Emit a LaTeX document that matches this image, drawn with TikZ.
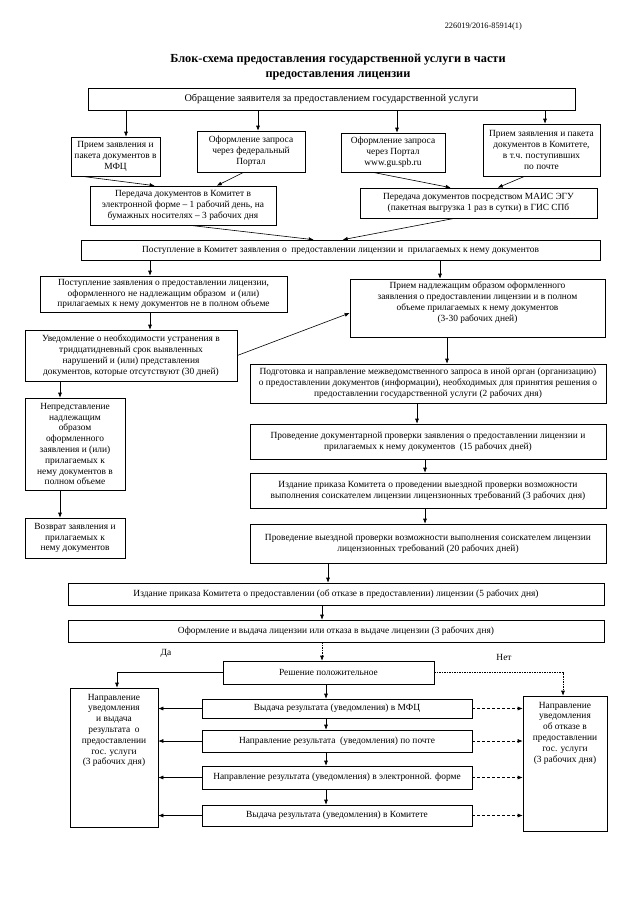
\documentclass[tikz,border=0pt]{standalone}
\usepackage{fontspec}
\setmainfont{Liberation Serif}
\usetikzlibrary{arrows.meta}
\tikzset{
 box/.style={draw, line width=0.6pt, inner sep=2pt, align=center, font=\fontsize{9.4}{10.8}\selectfont},
 arr/.style={line width=0.6pt, -{Latex[length=5pt,width=4pt]}},
 dasharr/.style={arr, dash pattern=on 3pt off 2pt},
 dotline/.style={arr, dash pattern=on 1.5pt off 1pt},
 lbl/.style={font=\fontsize{9.4}{10.8}\selectfont, inner sep=0pt},
}
\newcommand\flowbox[6]{\node[box, minimum width={(#4-#2)*1pt}, minimum height={(#5-#3)*1pt}] (#1) at ({(#2+#4)/2},{(#3+#5)/2}) {#6};}
\begin{document}
\begin{tikzpicture}[x=1pt,y=-1pt]
\useasboundingbox (0,0) rectangle (640,905);
\fill[white] (0,0) rectangle (640,905);

\node[inner sep=0pt, anchor=east, font=\fontsize{8.3}{9}\selectfont] (hdr) at (522,27) {226019/2016-85914(1)};
\node[inner sep=0pt, align=center, font=\fontsize{12.3}{14.5}\selectfont\bfseries] (title) at (338,67) {Блок-схема предоставления государственной услуги в части\\предоставления лицензии};

\flowbox{box1}{88}{88}{575}{110}{\fontsize{10.3}{11}\selectfont Обращение заявителя за предоставлением государственной услуги}

\flowbox{A}{71}{137}{160}{176}{Прием заявления и\\пакета документов в\\МФЦ}
\flowbox{B}{197}{131}{305}{172}{Оформление запроса\\через федеральный\\Портал}
\flowbox{C}{341}{133}{445}{172}{Оформление запроса\\через Портал\\www.gu.spb.ru}
\flowbox{D}{483}{124}{600}{176}{Прием заявления и пакета\\документов в Комитете,\\в т.ч. поступивших\\по почте}

\flowbox{T1}{90}{186}{276}{225}{Передача документов в Комитет в\\электронной форме – 1 рабочий день, на\\бумажных носителях – 3 рабочих дня}
\flowbox{T2}{360}{188}{597}{218}{Передача документов посредством МАИС ЭГУ\\(пакетная выгрузка 1 раз в сутки) в ГИС СПб}

\flowbox{P}{81}{240}{600}{260}{Поступление в Комитет заявления о\ \ предоставлении лицензии и\ \ прилагаемых к нему документов}

\flowbox{Bad}{40}{276}{287}{312}{Поступление заявления о предоставлении лицензии,\\оформленного не надлежащим образом\ \ и (или)\\прилагаемых к нему документов не в полном объеме}
\node[box, minimum width=255pt, minimum height=58pt] (Good) at (477.5,308) {\parbox[c][52pt][t]{250pt}{\centering Прием надлежащим образом оформленного\\заявления о предоставлении лицензии и в полном\\объеме прилагаемых к нему документов\\(3-30 рабочих дней)}};

\flowbox{Notice}{25}{330}{237}{381}{Уведомление о необходимости устранения в\\тридцатидневный срок выявленных\\нарушений и (или) представления\\документов, которые отсутствуют (30 дней)}

\flowbox{Inter}{250}{364}{606}{403}{Подготовка и направление межведомственного запроса в иной орган (организацию)\\о предоставлении документов (информации), необходимых для принятия решения о\\предоставлении государственной услуги (2 рабочих дня)}
\flowbox{Doc}{250}{424}{606}{459}{Проведение документарной проверки заявления о предоставлении лицензии и\\прилагаемых к нему документов\ \ (15 рабочих дней)}
\flowbox{Order}{250}{473}{606}{508}{Издание приказа Комитета о проведении выездной проверки возможности\\выполнения соискателем лицензии лицензионных требований (3 рабочих дня)}
\flowbox{Onsite}{250}{524}{606}{563}{Проведение выездной проверки возможности выполнения соискателем лицензии\\лицензионных требований (20 рабочих дней)}

\flowbox{Nonsub}{25}{398}{125}{490}{\fontsize{9.4}{10.3}\selectfont Непредставление\\надлежащим\\образом\\оформленного\\заявления и (или)\\прилагаемых к\\нему документов в\\полном объеме}
\flowbox{Ret}{25}{518}{125}{558}{Возврат заявления и\\прилагаемых к\\нему документов}

\flowbox{Order2}{68}{583}{604}{605}{Издание приказа Комитета о предоставлении (об отказе в предоставлении) лицензии (5 рабочих дня)}
\flowbox{Issue}{68}{620}{604}{642}{Оформление и выдача лицензии или отказа в выдаче лицензии (3 рабочих дня)}

\flowbox{Dec}{223}{661}{434}{684}{Решение положительное}
\node[lbl] (da) at (166,653) {Да};
\node[lbl] (net) at (504,657) {Нет};

\node[box, minimum width=88pt, minimum height=139pt] (Yes) at (114,757.5) {\parbox[c][133pt][t]{84pt}{\centering\vspace{3pt}Направление\\уведомления\\и выдача\\результата\ \ о\\предоставлении\\гос. услуги\\(3 рабочих дня)}};
\node[box, minimum width=84pt, minimum height=135pt] (No) at (565,763.5) {\parbox[c][129pt][t]{80pt}{\centering\vspace{3pt}Направление\\уведомления\\об отказе в\\предоставлении\\гос. услуги\\(3 рабочих дня)}};

\flowbox{R1}{202}{699}{472}{718}{Выдача результата (уведомления) в МФЦ}
\flowbox{R2}{202}{730}{472}{752}{Направление результата\ \ (уведомления) по почте}
\flowbox{R3}{202}{766}{472}{789}{Направление результата (уведомления) в электронной. форме}
\flowbox{R4}{202}{805}{472}{826}{Выдача результата (уведомления) в Комитете}

% connectors top
\draw[arr] (box1.south -| 126,0) -- (A.north -| 126,0);
\draw[arr] (box1.south -| 258,0) -- (B.north -| 258,0);
\draw[arr] (box1.south -| 397,0) -- (C.north -| 397,0);
\draw[arr] (box1.south -| 545,0) -- (D.north -| 545,0);

\draw[arr] ([xshift=11pt]A.south west) -- ([xshift=65pt]T1.north west);
\draw[arr] ([xshift=47pt]B.south west) -- ([xshift=127pt]T1.north west);
\draw[arr] ([xshift=32pt]C.south west) -- ([xshift=91pt]T2.north west);
\draw[arr] ([xshift=42pt]D.south west) -- ([xshift=138pt]T2.north west);

\draw[arr] ([xshift=100pt]T1.south west) -- ([xshift=233pt]P.north west);
\draw[arr] ([xshift=95pt]T2.south west) -- ([xshift=262pt]P.north west);

\draw[arr] (P.south -| 150,0) -- (Bad.north -| 150,0);
\draw[arr] (Bad.south -| 150,0) -- (Notice.north -| 150,0);
\draw[arr] (P.south -| 440,0) -- (Good.north -| 440,0);
\draw[arr] (Notice.east) -- ([yshift=-5pt]Good.west);
\draw[arr] (Good.south -| 447,0) -- (Inter.north -| 447,0);

\draw[arr] (Notice.south -| 60,0) -- (Nonsub.north -| 60,0);
\draw[arr] (Nonsub.south -| 60,0) -- (Ret.north -| 60,0);

\draw[arr] (Inter.south -| 417,0) -- (Doc.north -| 417,0);
\draw[arr] (Doc.south -| 425,0) -- (Order.north -| 425,0);
\draw[arr] (Order.south -| 425,0) -- (Onsite.north -| 425,0);
\draw[arr] (Onsite.south -| 328,0) -- (Order2.north -| 328,0);
\draw[arr] (Order2.south -| 322,0) -- (Issue.north -| 322,0);
\draw[dotline] (Issue.south -| 322,0) -- (Dec.north -| 322,0);

\draw[arr] (Dec.west) -| (Yes.north -| 117,0);
\draw[dotline] (Dec.east) -| (No.north -| 563,0);

\draw[arr] (Dec.south -| 326,0) -- (R1.north -| 326,0);
\draw[arr] (R1.south -| 326,0) -- (R2.north -| 326,0);
\draw[arr] (R2.south -| 326,0) -- (R3.north -| 326,0);
\draw[arr] (R3.south -| 326,0) -- (R4.north -| 326,0);

\foreach \r in {R1,R2,R3,R4}{
  \draw[arr] (\r.west) -- (\r.west -| Yes.east);
  \draw[dasharr] (\r.east) -- (\r.east -| No.west);
}
\end{tikzpicture}
\end{document}
